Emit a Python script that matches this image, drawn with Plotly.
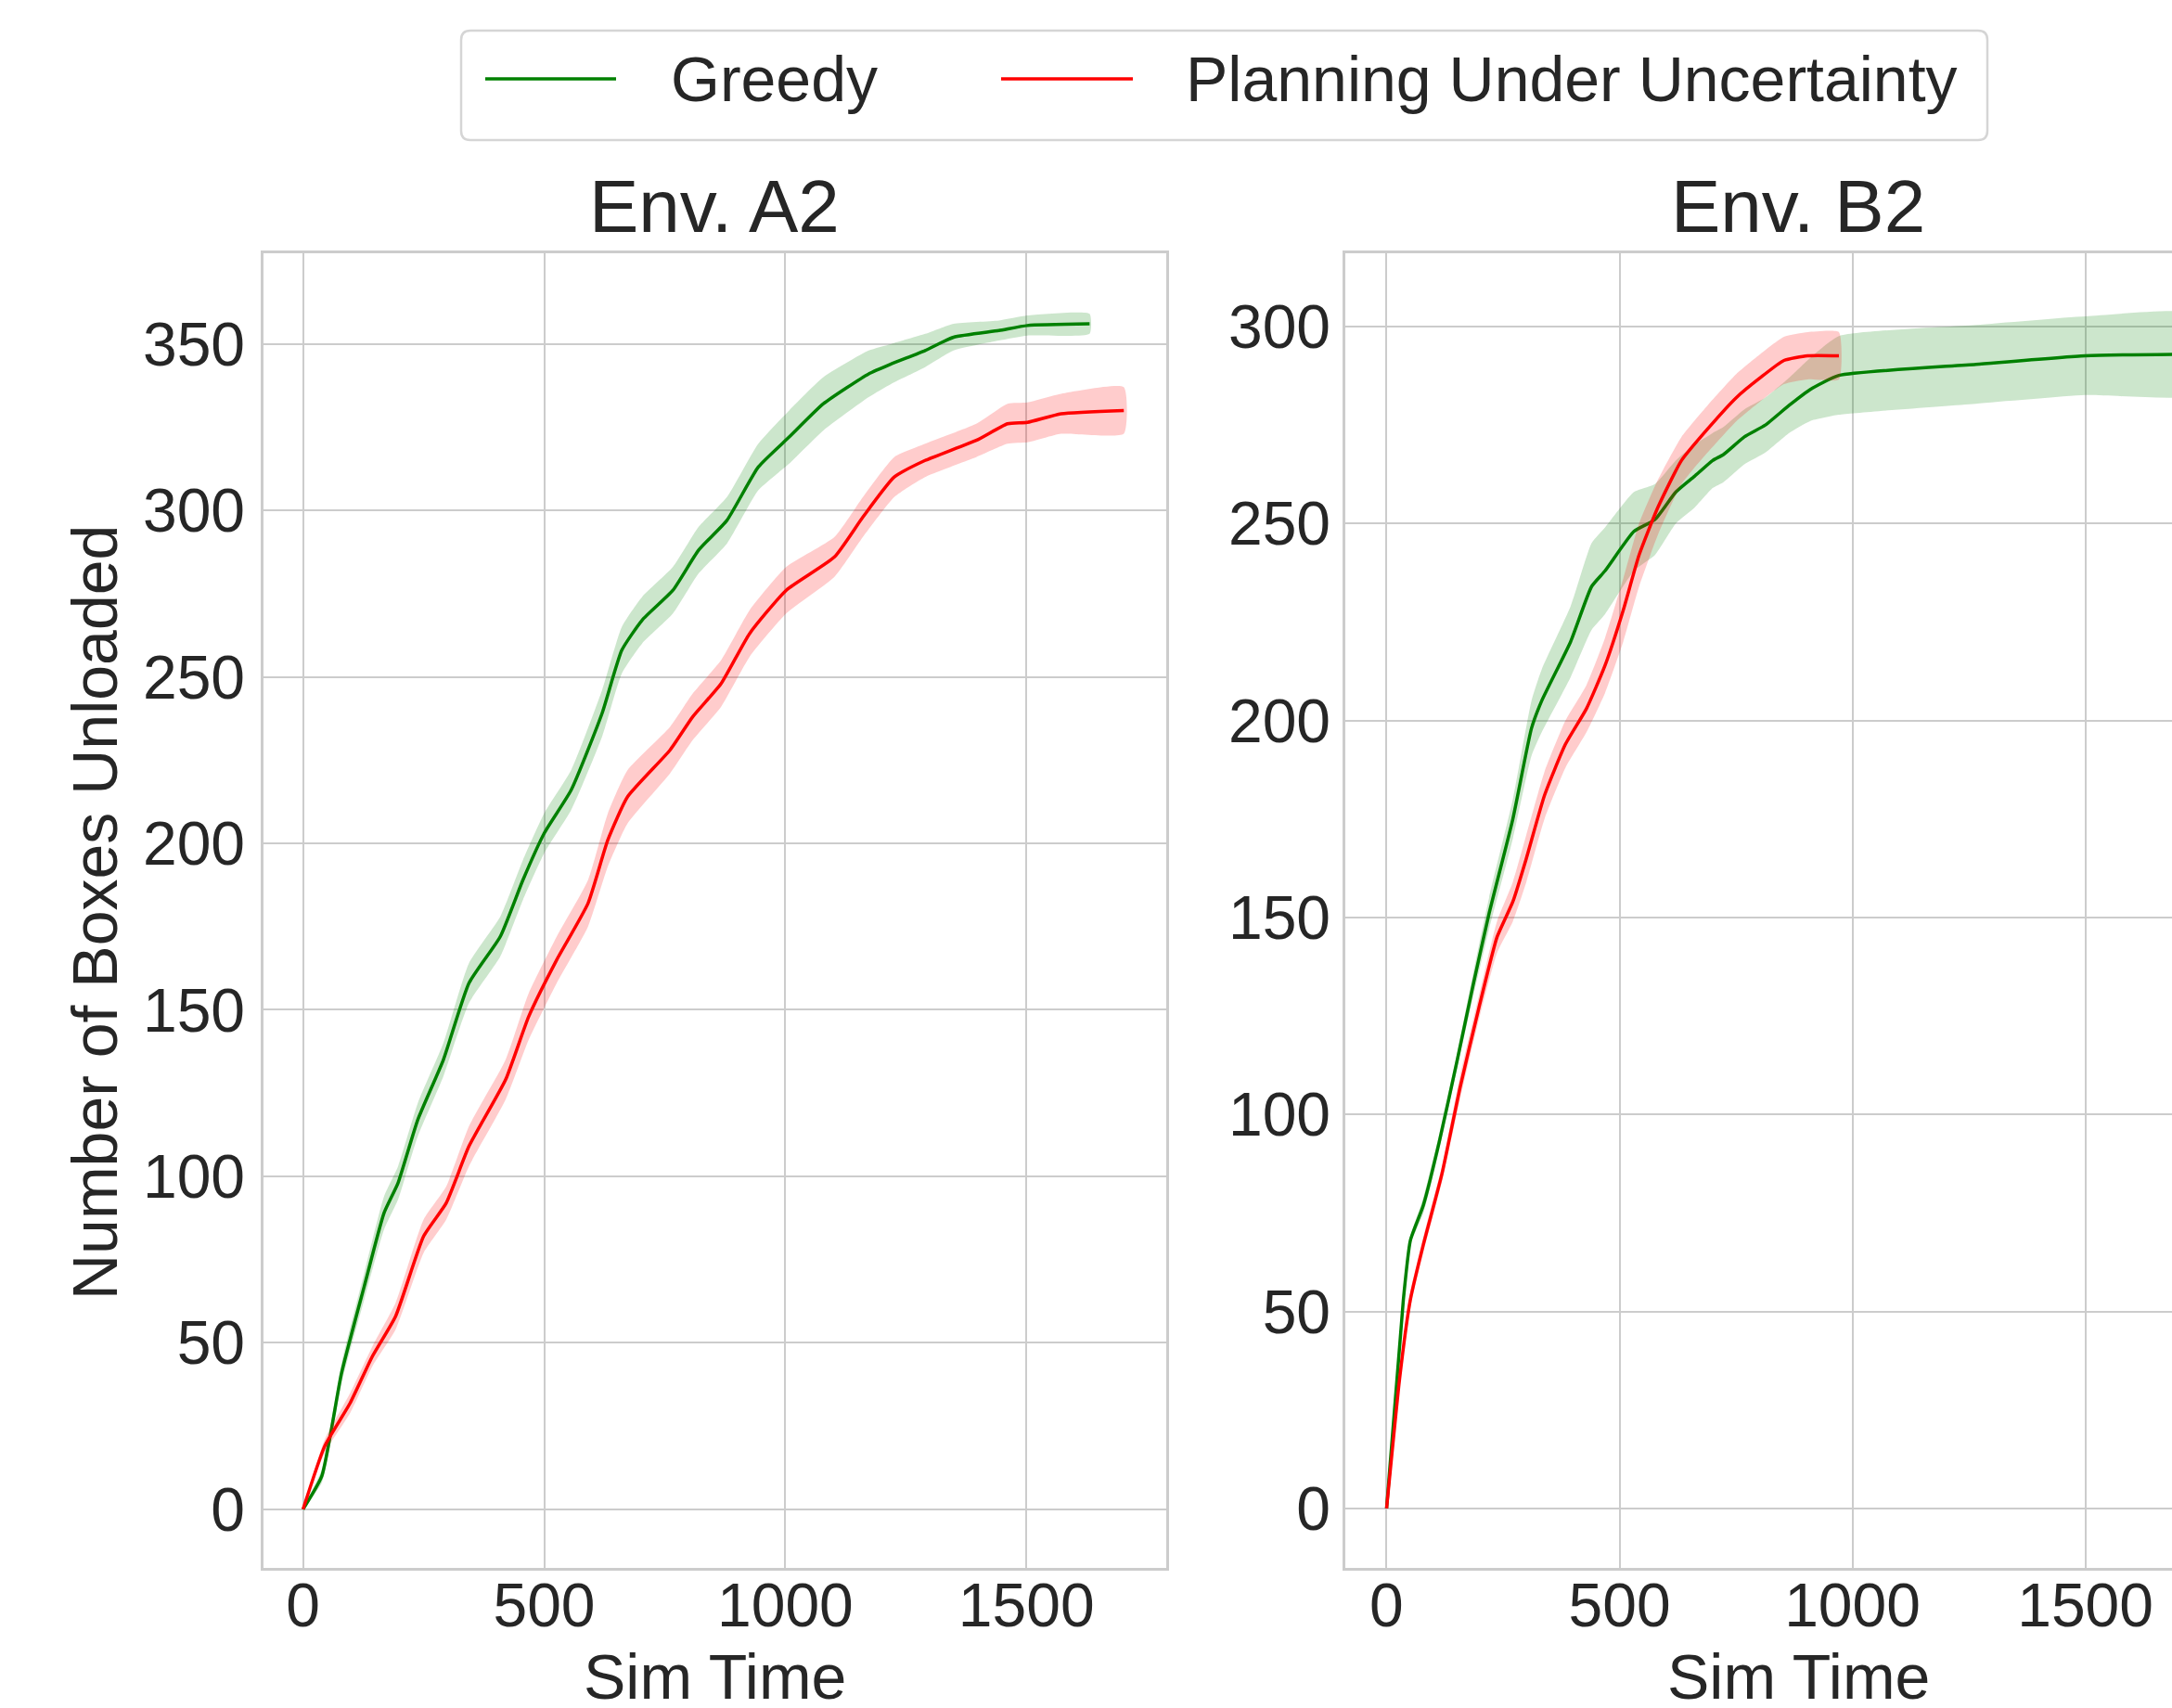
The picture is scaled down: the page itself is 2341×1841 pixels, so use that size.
import plotly.graph_objects as go

# ---------------- data ----------------
a2_greedy_x = [0, 39, 80, 127, 168, 197, 238, 291, 344, 409, 456, 500, 556, 620, 661, 703, 767, 820, 879, 944, 1008, 1079, 1173, 1220, 1290, 1349, 1443, 1502, 1631]
a2_greedy_y = [0, 10, 41, 67, 89, 98, 117, 135, 158, 172, 189, 203, 216, 239, 258, 267, 276, 288, 297, 313, 322, 332, 341, 344, 348, 352, 354, 355.5, 356]
a2_greedy_hw = [0, 2, 3, 4, 5, 5, 5, 5, 6, 6, 6, 6, 6, 7, 7, 7, 7, 7, 7, 7, 8, 8, 7, 6, 5, 4, 3, 3, 3]

a2_puu_x = [0, 45, 98, 144, 192, 250, 297, 344, 420, 468, 526, 591, 632, 673, 761, 808, 867, 926, 1002, 1102, 1161, 1226, 1290, 1396, 1461, 1502, 1572, 1702]
a2_puu_y = [0, 19, 32, 46, 58, 82, 92, 109, 129, 148, 165, 182, 201, 214, 228, 238, 248, 263, 276, 286, 298, 310, 315, 321, 326, 326.4, 329, 330]
a2_puu_hw = [0, 2, 3, 3, 4, 5, 5, 6, 6, 7, 7, 7, 8, 8, 7, 7, 7, 7, 7, 6, 6, 6, 5, 5, 6, 6, 6, 7]

b2_greedy_x = [0, 36, 51, 79, 113, 152, 186, 220, 271, 311, 333, 395, 440, 469, 531, 576, 621, 661, 700, 723, 768, 813, 864, 909, 971, 1265, 1500, 1750]
b2_greedy_y = [0, 53, 68, 77, 93, 114, 133, 151, 175, 198, 205, 220, 234, 238, 248, 251, 258, 262, 266, 267.5, 272, 275, 280, 284, 287.6, 290.4, 292.6, 293]
b2_greedy_hw = [0, 1, 1, 2, 2, 2, 3, 4, 5, 7, 8, 9, 11, 11, 10, 9, 8, 8, 7, 7, 7, 7, 7, 8, 10, 10, 10, 10]

b2_puu_x = [0, 28, 51, 79, 119, 158, 198, 237, 271, 300, 339, 384, 429, 469, 508, 542, 582, 633, 689, 751, 802, 853, 904, 971]
b2_puu_y = [0, 33, 53, 67, 85, 107, 127, 145, 154, 165, 181, 194, 203, 214, 228, 242, 254, 266, 274, 282, 287, 291.4, 292.6, 292.6]
b2_puu_hw = [0, 1, 2, 2, 2, 3, 3, 4, 5, 6, 6, 6, 6, 7, 8, 8, 7, 6, 6, 6, 6, 6, 6, 6]

series_names = ["Greedy", "Planning Under Uncertainty"]
panel_titles = ["Env. A2", "Env. B2"]
x_label = "Sim Time"
y_label = "Number of Boxes Unloaded"
x_ticks = [0, 500, 1000, 1500]
a2_y_ticks = [0, 50, 100, 150, 200, 250, 300, 350]
b2_y_ticks = [0, 50, 100, 150, 200, 250, 300]

# ---------------- styling ----------------
W, H = 2341, 1841
GREEN = "#008000"
RED = "#ff0000"
GREEN_FILL = "rgba(0,128,0,0.2)"
RED_FILL = "rgba(255,0,0,0.2)"
GRID = "#cccccc"
TEXT = "#262626"
FONT = "Liberation Sans, Arial, sans-serif"

fig = go.Figure()


def add_series(x, y, hw, color, fill, xa, ya):
    upper = [m + h for m, h in zip(y, hw)]
    lower = [m - h for m, h in zip(y, hw)]
    fig.add_trace(go.Scatter(x=x, y=y, mode="lines",
                             line=dict(color=color, width=3.5, shape="spline", smoothing=0.5),
                             xaxis=xa, yaxis=ya, showlegend=False, hoverinfo="skip"))
    fig.add_trace(go.Scatter(x=list(x) + list(x)[::-1], y=upper + lower[::-1],
                             mode="lines", fill="toself", fillcolor=fill,
                             line=dict(width=0, color=fill, shape="spline", smoothing=0.5),
                             xaxis=xa, yaxis=ya, showlegend=False, hoverinfo="skip"))


add_series(a2_greedy_x, a2_greedy_y, a2_greedy_hw, GREEN, GREEN_FILL, "x", "y")
add_series(a2_puu_x, a2_puu_y, a2_puu_hw, RED, RED_FILL, "x", "y")
add_series(b2_greedy_x, b2_greedy_y, b2_greedy_hw, GREEN, GREEN_FILL, "x2", "y2")
add_series(b2_puu_x, b2_puu_y, b2_puu_hw, RED, RED_FILL, "x2", "y2")

# panel geometry in pixels
L1, R1 = 284, 1257
L2, R2 = 1450, W
TOP, BOT = 273, 1690
ydom = [1 - BOT / H, 1 - TOP / H]

axis_common = dict(showgrid=True, gridcolor=GRID, gridwidth=2, zeroline=False,
                   showline=True, linecolor=GRID, linewidth=2.5, ticks="",
                   tickfont=dict(size=66, color=TEXT, family=FONT))

fig.update_layout(
    width=W, height=H,
    margin=dict(l=0, r=0, t=0, b=0),
    paper_bgcolor="white", plot_bgcolor="white",
    font=dict(family=FONT, color=TEXT),
    xaxis=dict(domain=[L1 / W, R1 / W], range=[-82, 1790], tickvals=x_ticks,
               anchor="y", mirror=True, ticklabelstandoff=-19, **axis_common),
    yaxis=dict(domain=ydom, range=[-17.6, 377.2], tickvals=a2_y_ticks,
               anchor="x", mirror=True, ticklabelstandoff=4, **axis_common),
    xaxis2=dict(domain=[L2 / W, 1.0], range=[-88.6, 1686], tickvals=x_ticks,
                anchor="y2", mirror=True, ticklabelstandoff=-19, **axis_common),
    yaxis2=dict(domain=ydom, range=[-15.1, 318.6], tickvals=b2_y_ticks,
                anchor="x2", mirror=False, ticklabelstandoff=0, **axis_common),
)

# titles and axis labels
ann = []
centers = [770, 1938]
for cx, t in zip(centers, panel_titles):
    ann.append(dict(text=t, x=cx / W, y=1 - 223 / H, xref="paper", yref="paper",
                    xanchor="center", yanchor="middle", showarrow=False,
                    font=dict(size=80, color=TEXT, family=FONT)))
    ann.append(dict(text=x_label, x=cx / W, y=1 - 1807 / H, xref="paper", yref="paper",
                    xanchor="center", yanchor="middle", showarrow=False,
                    font=dict(size=68, color=TEXT, family=FONT)))
ann.append(dict(text=y_label, x=102 / W, y=1 - 984 / H, xref="paper", yref="paper",
                xanchor="center", yanchor="middle", textangle=-90, showarrow=False,
                font=dict(size=68, color=TEXT, family=FONT)))

# legend (manual, drawn in paper coordinates)
lx0, lx1, ly0, ly1, r = 497, 2142, 33, 151, 10


def px(xp):
    return xp / W


def py(yp):
    return 1 - yp / H


path = (f"M {px(lx0 + r)},{py(ly0)} L {px(lx1 - r)},{py(ly0)} "
        f"Q {px(lx1)},{py(ly0)} {px(lx1)},{py(ly0 + r)} "
        f"L {px(lx1)},{py(ly1 - r)} Q {px(lx1)},{py(ly1)} {px(lx1 - r)},{py(ly1)} "
        f"L {px(lx0 + r)},{py(ly1)} Q {px(lx0)},{py(ly1)} {px(lx0)},{py(ly1 - r)} "
        f"L {px(lx0)},{py(ly0 + r)} Q {px(lx0)},{py(ly0)} {px(lx0 + r)},{py(ly0)} Z")
shapes = [dict(type="path", path=path, xref="paper", yref="paper",
               line=dict(color="#d5d5d5", width=2.5), fillcolor="rgba(255,255,255,0.8)")]
leg_items = [(523, 664, 721, GREEN), (1079, 1221, 1276, RED)]
for (sx0, sx1, tx, col), name in zip(leg_items, series_names):
    shapes.append(dict(type="line", xref="paper", yref="paper", x0=px(sx0), x1=px(sx1),
                       y0=py(85), y1=py(85), line=dict(color=col, width=3.5)))
    ann.append(dict(text=name, x=px(tx), y=py(85), xref="paper", yref="paper",
                    xanchor="left", yanchor="middle", showarrow=False,
                    font=dict(size=68, color=TEXT, family=FONT)))

fig.update_layout(annotations=ann, shapes=shapes)
fig.write_html("out.html", config={"displayModeBar": False},
               post_script="document.body.style.margin='0';document.body.style.overflow='hidden';")
